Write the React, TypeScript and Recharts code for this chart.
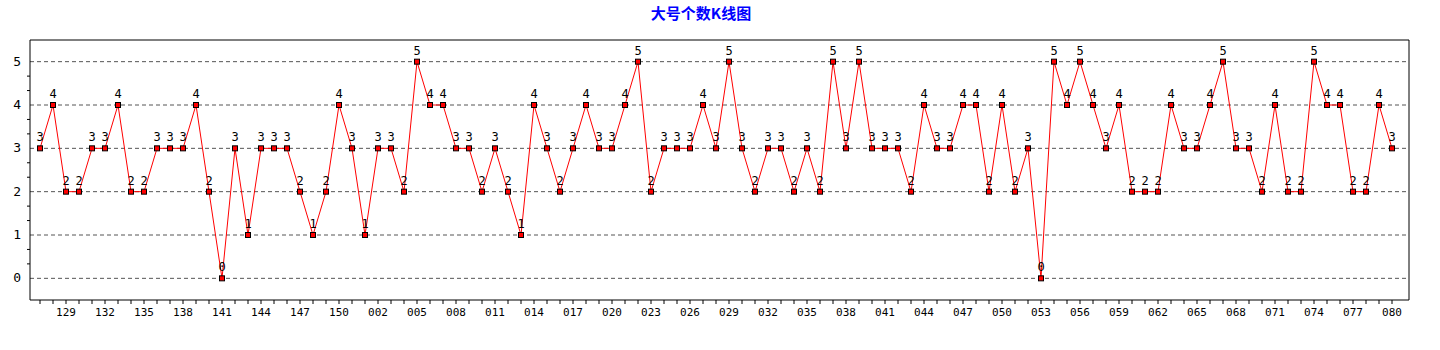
import { LineChart, Line, XAxis, YAxis, ReferenceLine, LabelList } from "recharts";

const periods = [
  "127", "128", "129", "130", "131", "132", "133", "134", "135", "136",
  "137", "138", "139", "140", "141", "142", "143", "144", "145", "146",
  "147", "148", "149", "150", "151",
  "001", "002", "003", "004", "005", "006", "007", "008", "009", "010",
  "011", "012", "013", "014", "015", "016", "017", "018", "019", "020",
  "021", "022", "023", "024", "025", "026", "027", "028", "029", "030",
  "031", "032", "033", "034", "035", "036", "037", "038", "039", "040",
  "041", "042", "043", "044", "045", "046", "047", "048", "049", "050",
  "051", "052", "053", "054", "055", "056", "057", "058", "059", "060",
  "061", "062", "063", "064", "065", "066", "067", "068", "069", "070",
  "071", "072", "073", "074", "075", "076", "077", "078", "079", "080",
];

const bigCounts = [
  3, 4, 2, 2, 3, 3, 4, 2, 2, 3,
  3, 3, 4, 2, 0, 3, 1, 3, 3, 3,
  2, 1, 2, 4, 3,
  1, 3, 3, 2, 5, 4, 4, 3, 3, 2,
  3, 2, 1, 4, 3, 2, 3, 4, 3, 3,
  4, 5, 2, 3, 3, 3,
  4, 3, 5, 3, 2, 3, 3, 2, 3, 2,
  5, 3, 5, 3, 3, 3, 2, 4, 3, 3,
  4, 4, 2, 4, 2, 3, 0,
  5, 4, 5, 4, 3, 4, 2, 2, 2, 4,
  3, 3, 4, 5, 3, 3, 2, 4, 2, 2,
  5, 4, 4, 2, 2, 4, 3,
];

// integer ticks get a label, the thirds in between only a short mark
const yTicks = [
  0, 0.3333, 0.6667, 1, 1.3333, 1.6667, 2, 2.3333, 2.6667, 3,
  3.3333, 3.6667, 4, 4.3333, 4.6667, 5,
];
const gridLevels = [0, 1, 2, 3, 4, 5];

const FONT = "'DejaVu Sans Mono', monospace";

const chartData = periods.map((p, i) => ({ period: p, value: bigCounts[i] }));

function XTick(props: any) {
  const { x, y, payload } = props;
  const idx = payload?.index ?? props.index;
  if (idx % 3 !== 2) return null;
  return (
    <text x={x} y={y + 10} textAnchor="middle" fontSize={11} fontFamily={FONT} fill="#000">
      {payload.value}
    </text>
  );
}

function YTick(props: any) {
  const { x, y, payload } = props;
  const v = payload.value;
  if (Math.abs(v - Math.round(v)) > 0.01) {
    return <line x1={x + 2} x2={x + 5} y1={y} y2={y} stroke="#000" />;
  }
  return (
    <text x={x - 4} y={y + 4} textAnchor="end" fontSize={13} fontFamily={FONT} fill="#000">
      {Math.round(v)}
    </text>
  );
}

function SquareDot(props: any) {
  const { cx, cy } = props;
  if (cx == null || cy == null) return null;
  return <rect x={cx - 2.5} y={cy - 2.5} width={5} height={5} fill="#ff0000" stroke="#000" strokeWidth={1} />;
}

export default function App() {
  return (
    <div style={{ position: "absolute", left: 0, top: 0, width: 1440, height: 350, background: "#fff" }}>
      <div
        style={{
          position: "absolute",
          top: 4,
          left: 0,
          width: 1402,
          textAlign: "center",
          color: "#0000ff",
          fontWeight: "bold",
          fontSize: 15,
          lineHeight: "18px",
          fontFamily: "'Noto Sans CJK SC', sans-serif",
        }}
      >
        大号个数K线图
      </div>
      <LineChart width={1440} height={350} data={chartData} margin={{ top: 39, right: 30, bottom: 0, left: 0 }}>
        {gridLevels.map((g) => (
          <ReferenceLine key={g} y={g} stroke="#555" strokeDasharray="4 3" />
        ))}
        <XAxis
          dataKey="period"
          height={50}
          interval={0}
          padding={{ left: 10, right: 17 }}
          tickSize={4}
          tickLine={{ stroke: "#000" }}
          axisLine={{ stroke: "#000" }}
          tick={<XTick />}
        />
        <XAxis
          xAxisId="top"
          orientation="top"
          dataKey="period"
          height={1}
          padding={{ left: 10, right: 17 }}
          tick={false}
          tickLine={false}
          axisLine={{ stroke: "#000" }}
        />
        <YAxis
          width={30}
          domain={[-0.5, 5.5]}
          ticks={yTicks}
          interval={0}
          tickSize={3}
          tickLine={false}
          axisLine={{ stroke: "#000" }}
          tick={<YTick />}
        />
        <YAxis
          yAxisId="right"
          orientation="right"
          width={1}
          domain={[-0.5, 5.5]}
          tick={false}
          tickLine={false}
          axisLine={{ stroke: "#000" }}
        />
        <Line
          type="linear"
          dataKey="value"
          stroke="#ff0000"
          strokeWidth={1}
          dot={<SquareDot />}
          activeDot={false}
          isAnimationActive={false}
        >
          <LabelList dataKey="value" position="top" offset={7} fill="#000" fontSize={12} fontFamily={FONT} />
        </Line>
      </LineChart>
    </div>
  );
}
